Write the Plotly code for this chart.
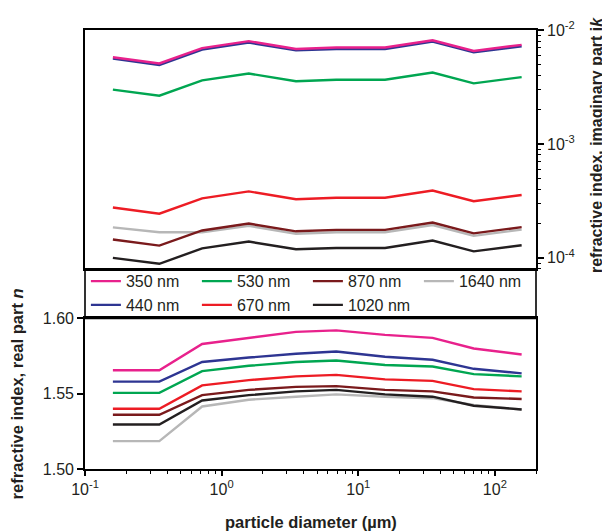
import plotly.graph_objects as go

# particle diameter (um) for each bin
diameter = [0.16, 0.35, 0.72, 1.58, 3.5, 6.9, 15.7, 35, 70, 157]

wavelengths = ['350 nm', '440 nm', '530 nm', '670 nm', '870 nm', '1020 nm', '1640 nm']

# real part n
n_350 = [1.5655, 1.5655, 1.583, 1.587, 1.591, 1.592, 1.589, 1.587, 1.580, 1.576]
n_440 = [1.558, 1.558, 1.571, 1.574, 1.5765, 1.578, 1.5745, 1.5725, 1.5665, 1.5635]
n_530 = [1.5505, 1.5505, 1.565, 1.5685, 1.571, 1.572, 1.569, 1.568, 1.563, 1.5615]
n_670 = [1.540, 1.540, 1.5555, 1.559, 1.5615, 1.5625, 1.5595, 1.5585, 1.553, 1.5515]
n_870 = [1.536, 1.536, 1.549, 1.5525, 1.5545, 1.555, 1.5525, 1.5515, 1.5475, 1.5465]
n_1020 = [1.5295, 1.5295, 1.5455, 1.549, 1.5515, 1.5525, 1.5495, 1.548, 1.542, 1.5395]
n_1640 = [1.5185, 1.5185, 1.5415, 1.546, 1.548, 1.5495, 1.548, 1.547, 1.5425, 1.5395]

# imaginary part k
k_350 = [5.77e-3, 5.09e-3, 6.93e-3, 7.98e-3, 6.82e-3, 7.03e-3, 7.03e-3, 8.13e-3, 6.55e-3, 7.41e-3]
k_440 = [5.61e-3, 4.93e-3, 6.73e-3, 7.74e-3, 6.64e-3, 6.82e-3, 6.82e-3, 7.91e-3, 6.37e-3, 7.19e-3]
k_530 = [3.00e-3, 2.65e-3, 3.61e-3, 4.15e-3, 3.55e-3, 3.66e-3, 3.66e-3, 4.23e-3, 3.40e-3, 3.86e-3]
k_670 = [2.77e-4, 2.44e-4, 3.33e-4, 3.83e-4, 3.27e-4, 3.37e-4, 3.37e-4, 3.90e-4, 3.14e-4, 3.56e-4]
k_870 = [1.45e-4, 1.28e-4, 1.74e-4, 2.00e-4, 1.71e-4, 1.76e-4, 1.76e-4, 2.04e-4, 1.64e-4, 1.86e-4]
k_1020 = [1.00e-4, 0.887e-4, 1.21e-4, 1.39e-4, 1.19e-4, 1.22e-4, 1.22e-4, 1.42e-4, 1.14e-4, 1.29e-4]
k_1640 = [1.85e-4, 1.68e-4, 1.68e-4, 1.91e-4, 1.63e-4, 1.68e-4, 1.68e-4, 1.94e-4, 1.56e-4, 1.77e-4]

n_data = [n_350, n_440, n_530, n_670, n_870, n_1020, n_1640]
k_data = [k_350, k_440, k_530, k_670, k_870, k_1020, k_1640]
colors = ['#E8218C', '#2E3592', '#00A651', '#ED1C24', '#7A1A1C', '#231F20', '#B7B7B7']
legend_rank = [1, 5, 2, 6, 3, 7, 4]

FONT = 'Liberation Sans, Arial, sans-serif'

# panel split (paper fractions)
bot_top = 0.3432
top_bot = 0.4558

fig = go.Figure()

# draw back to front so pink sits over blue, dark red over grey
for i in [6, 5, 4, 3, 2, 1, 0]:
    fig.add_trace(go.Scatter(x=diameter, y=k_data[i], mode='lines', xaxis='x2', yaxis='y2',
                             line=dict(color=colors[i], width=2.4), showlegend=False))
for i in [6, 5, 4, 3, 2, 1, 0]:
    fig.add_trace(go.Scatter(x=diameter, y=n_data[i], mode='lines', name=wavelengths[i],
                             line=dict(color=colors[i], width=2.4), legendrank=legend_rank[i]))

xticks = [0.1, 1, 10, 100]
xtext = ['10<sup>-1</sup>', '10<sup>0</sup>', '10<sup>1</sup>', '10<sup>2</sup>']
xminor = [m * d for d in [0.1, 1, 10, 100] for m in range(2, 10) if m * d <= 200]
kticks = [1e-4, 1e-3, 1e-2]
ktext = ['10<sup>-4</sup>', '10<sup>-3</sup>', '10<sup>-2</sup>']
kminor = [m * d for d in [1e-5, 1e-4, 1e-3] for m in range(2, 10) if m * d >= 8e-5]

# the page body adds an 8px margin, so the figure is 8px smaller and shifted
fig.update_layout(
    width=602, height=524,
    margin=dict(l=77, r=74, t=22, b=63),
    paper_bgcolor='white', plot_bgcolor='white',
    font=dict(family=FONT, size=14, color='#231F20'),
    xaxis=dict(type='log', range=[-1, 2.301], domain=[0, 1], anchor='y',
               tickmode='array', tickvals=xticks, ticktext=xtext,
               ticks='outside', ticklen=5, tickwidth=1.5, tickcolor='black',
               minor=dict(tickmode='array', tickvals=xminor, ticks='outside', ticklen=3,
                          tickwidth=1.2, tickcolor='black', showgrid=False),
               showline=True, linecolor='black', linewidth=1.6, mirror=True,
               showgrid=False, zeroline=False, tickfont=dict(size=16)),
    yaxis=dict(range=[1.50, 1.60], domain=[0, bot_top], anchor='x',
               tickvals=[1.50, 1.55, 1.60], ticktext=['1.50', '1.55', '1.60'],
               ticks='outside', ticklen=6, tickwidth=1.5, tickcolor='black',
               showline=True, linecolor='black', linewidth=1.6, mirror=True,
               showgrid=False, zeroline=False, tickfont=dict(size=16)),
    xaxis2=dict(type='log', range=[-1, 2.301], domain=[0, 1], anchor='y2', matches='x',
                showticklabels=False, ticks='',
                showline=True, linecolor='black', linewidth=1.6, mirror=True,
                showgrid=False, zeroline=False),
    yaxis2=dict(type='log', range=[-4.097, -2], domain=[top_bot, 1], anchor='x2', side='right',
                tickmode='array', tickvals=kticks, ticktext=ktext,
                ticks='outside', ticklen=6, tickwidth=1.5, tickcolor='black',
                minor=dict(tickmode='array', tickvals=kminor, ticks='outside', ticklen=3.5,
                           tickwidth=1.2, tickcolor='black', showgrid=False),
                showline=True, linecolor='black', linewidth=1.6, mirror=True,
                showgrid=False, zeroline=False, tickfont=dict(size=16)),
    legend=dict(orientation='h', x=0.002, y=0.4665, xanchor='left', yanchor='top',
                entrywidth=66, entrywidthmode='pixels', bgcolor='rgba(0,0,0,0)',
                font=dict(size=16), traceorder='normal', tracegroupgap=0),
    shapes=[dict(type='rect', xref='paper', yref='paper', x0=0, x1=1, y0=bot_top, y1=top_bot,
                 line=dict(color='black', width=1.6))],
    annotations=[
        dict(text='<b>refractive index, real part <i>n</i></b>', xref='paper', yref='paper',
             x=-0.152, y=0.171, textangle=-90, showarrow=False, font=dict(size=16.5),
             xanchor='center', yanchor='middle'),
        dict(text='<b>refractive index, imaginary part i<i>k</i></b>', xref='paper', yref='paper',
             x=1.133, y=0.738, textangle=-90, showarrow=False, font=dict(size=16),
             xanchor='center', yanchor='middle'),
        dict(text='<b>particle diameter (\u00b5m)</b>', xref='paper', yref='paper',
             x=0.5, y=-0.12, showarrow=False, font=dict(size=16.5),
             xanchor='center', yanchor='middle'),
    ],
)

fig.write_html('out.html')
